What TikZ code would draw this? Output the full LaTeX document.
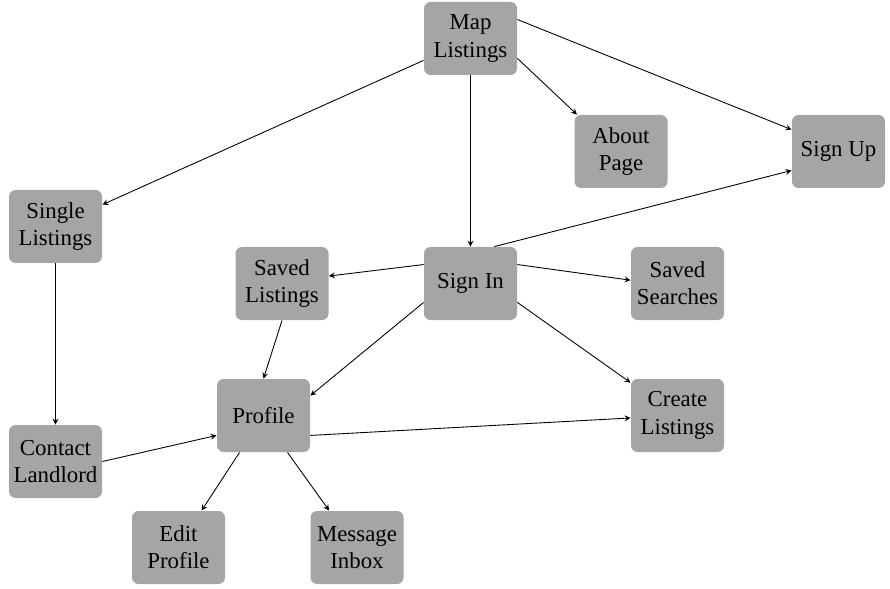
\documentclass[tikz,border=0pt]{standalone}
\usepackage{fontspec}
\newfontfamily\pagefont{Liberation Serif}
\usepackage{tikz}
\usetikzlibrary{calc, positioning}

\definecolor{boxgray}{RGB}{165,165,165}

\begin{document}
\begin{tikzpicture}[>=stealth, line width=0.5pt,
    page/.style={fill=boxgray, rounded corners=0.13cm, minimum width=1.86cm, minimum height=1.46cm,
                 inner sep=1pt, align=center, font=\pagefont\fontsize{13}{15.5}\selectfont}]

            \useasboundingbox (0,0) rectangle (17.8,-11.78);

            \node[page] (map) at (9.41,-0.77) {Map\\Listings};
            \node[page] (about) at (12.42,-3.03) {About\\Page};
            \node[page] (signup) at (16.77,-3.03) {Sign Up};
            \node[page] (single) at (1.11,-4.53) {Single\\Listings};

            \node[page] (savedlist) at (5.64,-5.67) {Saved\\Listings};
            \node[page] (signin) at (9.41,-5.67) {Sign In};
            \node[page] (savedsearch) at (13.55,-5.67) {Saved\\Searches};

            \node[page] (profile) at (5.27,-8.31) {Profile};
            \node[page] (create) at (13.55,-8.31) {Create\\Listings};
            \node[page] (contact) at (1.11,-9.23) {Contact\\Landlord};

            \node[page] (edit) at (3.57,-10.95) {Edit\\Profile};
            \node[page] (inbox) at (7.14,-10.95) {Message\\Inbox};

            % Connections: from the map page
            \draw[->] (map.205) -- (single.25);
            \draw[->] (map.22) -- (signup.155);
            \draw[->] (map.337) -- (about.140);
            \draw[->] (map.south) -- (signin.north);

            % Connections: from sign in
            \draw[->] (signin.57) -- (signup.202);
            \draw[->] (signin.158) -- (savedlist.9);
            \draw[->] (signin.22) -- (savedsearch.176);
            \draw[->] (signin.202) -- (profile.23);
            \draw[->] (signin.338) -- (create.145);

            % Connections: into and out of the profile
            \draw[->] (savedlist.south) -- (profile.north);
            \draw[->] (single.south) -- (contact.north);
            \draw[->] (contact.east) -- (profile.203);
            \draw[->] (profile.337) -- (create.183);
            \draw[->] (profile.237) -- (edit.58);
            \draw[->] (profile.303) -- (inbox.127);

        \end{tikzpicture}
\end{document}
